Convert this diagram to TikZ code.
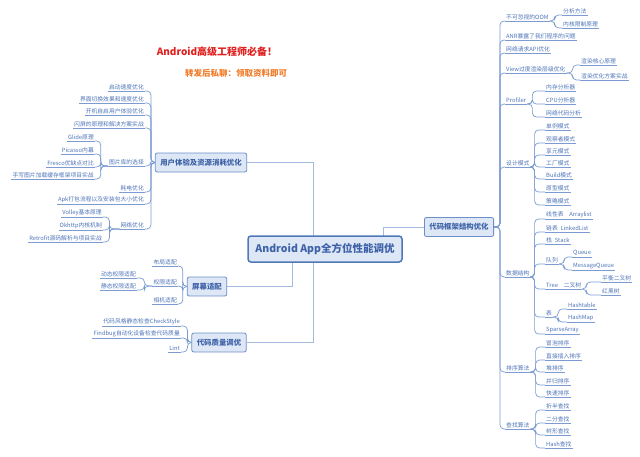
\documentclass[tikz,border=0pt]{standalone}
\usepackage{fontspec}
\setmainfont{Noto Sans CJK SC}
\usetikzlibrary{backgrounds,calc}
\definecolor{boxf}{HTML}{DDE7F5}
\definecolor{boxd}{HTML}{6B8FC9}
\definecolor{boxt}{HTML}{3E62A8}
\definecolor{rootd}{HTML}{4F78B8}
\definecolor{leaft}{HTML}{4D73B8}
\definecolor{ulc}{HTML}{7B9BD1}
\definecolor{connc}{HTML}{A3BBE0}
\definecolor{titred}{HTML}{E0201F}
\definecolor{titorg}{HTML}{F07C2A}
\begin{document}
\begin{tikzpicture}[x=1pt,y=-1pt,
  uline/.style={draw=ulc,line width=0.7pt},
  leaf/.style={font=\fontsize{5.8}{7}\selectfont,text=leaft,inner xsep=1pt,inner ysep=1pt,
    append after command={(\tikzlastnode.south west) edge[uline] (\tikzlastnode.south east)}},
  lft/.style={leaf,anchor=south east},
  rgt/.style={leaf,anchor=south west},
  conn/.style={draw=ulc,line width=0.7pt,rounded corners=4pt},
  trunk/.style={draw=connc,line width=0.8pt},
  mainbox/.style={draw=boxd,fill=boxf,rounded corners=2pt,line width=0.8pt,text=boxt,
    font=\fontsize{7.4}{9}\selectfont\bfseries,inner xsep=5pt,minimum height=19pt},
  rootbox/.style={draw=rootd,fill=boxf,rounded corners=3pt,line width=1.5pt,text=boxt,
    font=\fontsize{10.5}{12}\selectfont\bfseries,minimum width=154pt,minimum height=26pt},
  titlea/.style={font=\fontsize{10}{12}\selectfont\bfseries,text=titred},
  titleb/.style={font=\fontsize{8.5}{10}\selectfont\bfseries,text=titorg}]
\useasboundingbox (0,0) rectangle (640,456);

% titles
\node[titlea] (t1) at (217,52) {Android高级工程师必备！};
\node[titleb] (t2) at (236,73) {转发后私聊：领取资料即可};

% root and main branches
\node[rootbox] (root) at (325,249) {Android App全方位性能调优};
\node[mainbox] (ux) at (201,162.5) {用户体验及资源消耗优化};
\node[mainbox] (sa) at (207,286.5) {屏幕适配};
\node[mainbox] (cq) at (219,342.5) {代码质量调优};
\node[mainbox] (cf) at (459,227) {代码框架结构优化};

\begin{scope}[on background layer]
\draw[trunk] (ux.east) -| ([xshift=-12pt]root.center);
\draw[trunk] (cq.east) -| ([xshift=-12pt]root.center);
\draw[trunk] (sa.east) -| ([xshift=-33pt]root.center);
\draw[trunk] (cf.west) -| ([xshift=58pt]root.center);
\end{scope}

% ---------- left: user experience ----------
\node[lft] (u1) at (145,91) {启动速度优化};
\node[lft] (u2) at (145,103) {界面切换效果和速度优化};
\node[lft] (u3) at (145,115) {开机自启用户体验优化};
\node[lft] (u4) at (145,128) {闪屏的原理和解决方案实战};
\node[lft] (pic) at (145,166) {图片库的选择};
\node[lft] (u6) at (145,192) {耗电优化};
\node[lft] (u7) at (145,204) {Apk打包流程以及安装包大小优化};
\node[lft] (nopt) at (145,229) {网络优化};
\foreach \n in {u1,u2,u3,u4,pic,u6,u7,nopt}
  \draw[conn] (ux.west) -- ++(-4,0) |- (\n.south east);

\node[lft] (g1) at (95,141) {Glide原理};
\node[lft] (g2) at (95,154) {Picasso内幕};
\node[lft] (g3) at (95,167) {Fresco优缺点对比};
\node[lft] (g4) at (95,179) {手写图片加载缓存框架项目实战};
\foreach \n in {g1,g2,g3,g4}
  \draw[conn] (pic.south west) -- ++(-7,0) |- (\n.south east);

\node[lft] (w1) at (103,217) {Volley基本原理};
\node[lft] (w2) at (103,230) {Okhttp内核机制};
\node[lft] (w3) at (103,242) {Retrofit源码解析与项目实战};
\foreach \n in {w1,w2,w3}
  \draw[conn] (nopt.south west) -- ++(-10,0) |- (\n.south east);

% ---------- left: screen ----------
\node[lft] (s1) at (178,266) {布局适配};
\node[lft] (s2) at (178,286) {权限适配};
\node[lft] (s3) at (178,304) {相机适配};
\foreach \n in {s1,s2,s3}
  \draw[conn] (sa.west) -- ++(-4,0) |- (\n.south east);
\node[lft] (p1) at (137,278) {动态权限适配};
\node[lft] (p2) at (137,290) {静态权限适配};
\foreach \n in {p1,p2}
  \draw[conn] (s2.south west) -- ++(-8,0) |- (\n.south east);

% ---------- left: code quality ----------
\node[lft] (c1) at (181,326) {代码风格静态检查CheckStyle};
\node[lft] (c2) at (181,338) {Findbug自动化设备检查代码质量};
\node[lft] (c3) at (181,352) {Lint};
\foreach \n in {c1,c2,c3}
  \draw[conn] (cq.west) -- ++(-4,0) |- (\n.south east);

% ---------- right: code framework ----------
\node[rgt] (oom) at (505,21) {不可忽视的OOM};
\node[rgt] (anr) at (505,40) {ANR暴露了我们程序的问题};
\node[rgt] (napi) at (505,53) {网络请求API优化};
\node[rgt] (view) at (505,73) {View过度渲染层级优化};
\node[rgt] (prof) at (505,104) {Profiler};
\node[rgt] (dp) at (505,167) {设计模式};
\node[rgt] (ds) at (505,277) {数据结构};
\node[rgt] (sort) at (505,372) {排序算法};
\node[rgt] (srch) at (505,429) {查找算法};
\foreach \n in {oom,anr,napi,view,prof,dp,ds,sort,srch}
  \draw[conn] (cf.east) -- ++(6,0) |- (\n.south west);

\node[rgt] (om1) at (562,15) {分析方法};
\node[rgt] (om2) at (562,28) {内核限制原理};
\foreach \n in {om1,om2}
  \draw[conn] (oom.south east) -- ++(5,0) |- (\n.south west);

\node[rgt] (v1) at (580,65) {渲染核心原理};
\node[rgt] (v2) at (580,80) {渲染优化方案实战};
\foreach \n in {v1,v2}
  \draw[conn] (view.south east) -- ++(6,0) |- (\n.south west);

\node[rgt] (pr1) at (545,91) {内存分析器};
\node[rgt] (pr2) at (545,104) {CPU分析器};
\node[rgt] (pr3) at (545,117) {网络代码分析};
\foreach \n in {pr1,pr2,pr3}
  \draw[conn] (prof.south east) -- ++(5,0) |- (\n.south west);

\node[rgt] (d1) at (545,130) {单例模式};
\node[rgt] (d2) at (545,143) {观察者模式};
\node[rgt] (d3) at (545,155) {享元模式};
\node[rgt] (d4) at (545,167) {工厂模式};
\node[rgt] (d5) at (545,179) {Build模式};
\node[rgt] (d6) at (545,192) {原型模式};
\node[rgt] (d7) at (545,205) {策略模式};
\foreach \n in {d1,d2,d3,d4,d5,d6,d7}
  \draw[conn] (dp.south east) -- ++(4,0) |- (\n.south west);

\node[rgt] (x1) at (545,219) {线性表\quad Arraylist};
\node[rgt] (x2) at (545,232) {链表\enspace LinkedList};
\node[rgt] (x3) at (545,244) {栈\enspace Stack};
\node[rgt] (x4) at (545,264) {队列};
\node[rgt] (x5) at (545,289) {Tree\quad 二叉树};
\node[rgt] (x6) at (545,317) {表};
\node[rgt] (x7) at (545,334) {SparseArray};
\foreach \n in {x1,x2,x3,x4,x5,x6,x7}
  \draw[conn] (ds.south east) -- ++(4,0) |- (\n.south west);

\node[rgt] (q1) at (572,257) {Queue};
\node[rgt] (q2) at (572,270) {MessageQueue};
\foreach \n in {q1,q2}
  \draw[conn] (x4.south east) -- ++(5,0) |- (\n.south west);

\node[rgt] (tr1) at (601,282) {平衡二叉树};
\node[rgt] (tr2) at (601,295) {红黑树};
\foreach \n in {tr1,tr2}
  \draw[conn] (x5.south east) -- ++(4,0) |- (\n.south west);

\node[rgt] (h1) at (567,309) {Hashtable};
\node[rgt] (h2) at (567,322) {HashMap};
\foreach \n in {h1,h2}
  \draw[conn] (x6.south east) -- ++(5,0) |- (\n.south west);

\node[rgt] (o1) at (545,347) {冒泡排序};
\node[rgt] (o2) at (545,360) {直接插入排序};
\node[rgt] (o3) at (545,372) {堆排序};
\node[rgt] (o4) at (545,385) {并归排序};
\node[rgt] (o5) at (545,397) {快速排序};
\foreach \n in {o1,o2,o3,o4,o5}
  \draw[conn] (sort.south east) -- ++(5,0) |- (\n.south west);

\node[rgt] (f1) at (545,410) {折半查找};
\node[rgt] (f2) at (545,423) {二分查找};
\node[rgt] (f3) at (545,435) {树形查找};
\node[rgt] (f4) at (545,448) {Hash查找};
\foreach \n in {f1,f2,f3,f4}
  \draw[conn] (srch.south east) -- ++(5,0) |- (\n.south west);
\end{tikzpicture}
\end{document}
